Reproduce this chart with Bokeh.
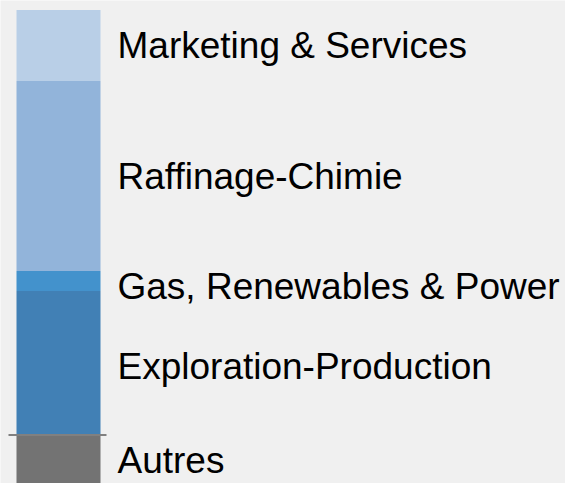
from bokeh.plotting import figure
from bokeh.models import ColumnDataSource, Range1d
from bokeh.embed import file_html
from bokeh.resources import INLINE
from bokeh.core.properties import value

# Data (stacked segments, bottom to top for positives)
segments = ["Exploration-Production", "Gas, Renewables & Power", "Raffinage-Chimie", "Marketing & Services"]
seg_values = [14.4, 2.0, 19.0, 7.1]
seg_colors = ["#4180b5", "#4392cc", "#92b4da", "#b9cfe7"]
neg_label = "Autres"
neg_value = -5.0
neg_color = "#737373"
label_offsets = [0.3, 0.5, 0.0, 0.0]

bg = "#f0f0f0"

p = figure(width=565, height=483, output_backend="svg", toolbar_location=None,
           x_range=Range1d(0, 565), y_range=Range1d(-4.85, 43.45),
           min_border=0, min_border_left=0, min_border_right=0,
           min_border_top=0, min_border_bottom=0)
p.xaxis.visible = False
p.yaxis.visible = False
p.grid.visible = False
p.outline_line_color = None
p.background_fill_color = bg
p.border_fill_color = bg

bottoms = []
tops = []
acc = 0.0
for v in seg_values:
    bottoms.append(acc)
    acc += v
    tops.append(acc)

src = ColumnDataSource(dict(bottom=bottoms + [neg_value], top=tops + [0.0],
                            color=seg_colors + [neg_color],
                            label=segments + [neg_label]))
p.vbar(x=58, width=84, bottom="bottom", top="top", color="color", line_color=None, source=src)

# baseline
p.segment(x0=8, x1=106, y0=0, y1=0, line_color="#808080", line_width=2)

label_y = [(b + t) / 2 - o for b, t, o in zip(bottoms, tops, label_offsets)] + [neg_value / 2]
lsrc = ColumnDataSource(dict(y=label_y, text=segments + [neg_label]))
p.text(x=117, y="y", text="text", source=lsrc, text_font=value("Liberation Sans"),
       text_font_size="37px", text_baseline="middle", text_align="left", text_color="#000000")

html = file_html(p, INLINE)
html = html.replace("<body>", '<body style="background:#f0f0f0">', 1)
open("out.html", "w").write(html)
